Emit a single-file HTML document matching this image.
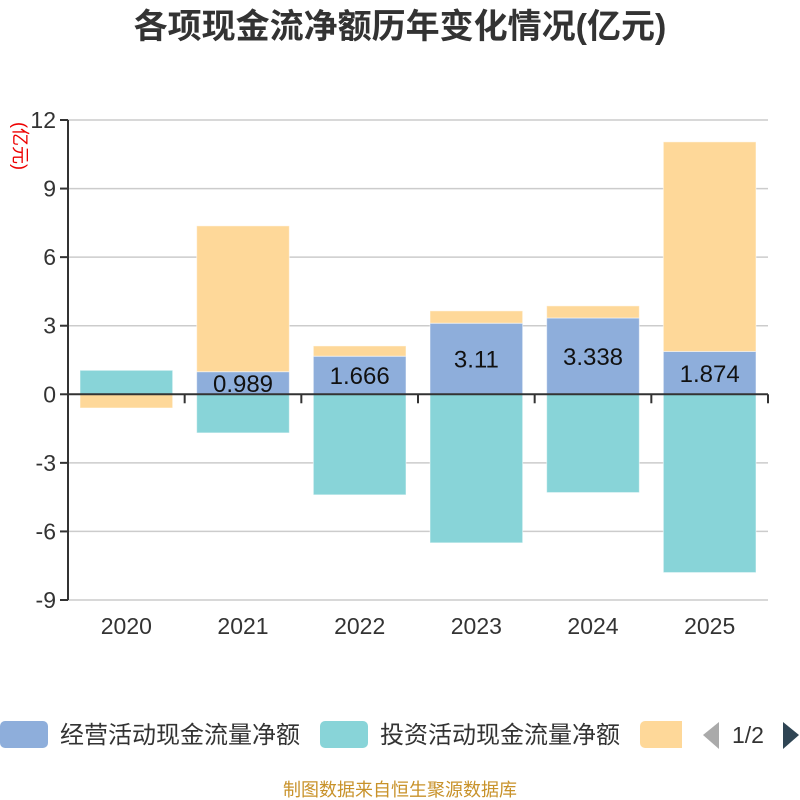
<!DOCTYPE html>
<html><head><meta charset="utf-8"><style>
body{margin:0;background:#fff;}
svg{display:block;font-family:"Liberation Sans","Noto Sans CJK SC",sans-serif;}
</style></head><body>
<svg id="c" width="800" height="800" viewBox="0 0 800 800">
<text x="400" y="38" text-anchor="middle" font-size="34" font-weight="bold" fill="#333">各项现金流净额历年变化情况(亿元)</text>
<text transform="translate(14,146) rotate(90)" text-anchor="middle" font-size="18" fill="#e00">(亿元)</text>
<g id="grid"></g><g id="bars"></g><g id="axes"></g><g id="labels"></g>
<g>
<rect x="0" y="721" width="48" height="27" rx="5" fill="#8eaedb"/>
<text x="60" y="743" font-size="24" fill="#333">经营活动现金流量净额</text>
<rect x="320" y="721" width="48" height="27" rx="5" fill="#88d4d8"/>
<text x="380" y="743" font-size="24" fill="#333">投资活动现金流量净额</text>
<rect x="640" y="721" width="48" height="27" rx="5" fill="#fed899"/>
<rect x="682" y="715" width="20" height="40" fill="#fff"/>
<polygon points="719,722 703,735 719,749" fill="#aaa"/>
<text x="732" y="743" font-size="23" fill="#333">1/2</text>
<polygon points="783,722 799,735 783,749" fill="#2f4554"/>
</g>
<text x="400" y="796" text-anchor="middle" font-size="18" fill="#c8922a">制图数据来自恒生聚源数据库</text>
</svg>
<script>
const categories=["2020","2021","2022","2023","2024","2025"];
const operating=[0,0.989,1.666,3.11,3.338,1.874];
const investing=[1.05,-1.69,-4.4,-6.5,-4.3,-7.8];
const financing=[-0.6,6.38,0.45,0.54,0.53,9.17];
const opLabels=["","0.989","1.666","3.11","3.338","1.874"];
const yTicks=[12,9,6,3,0,-3,-6,-9];
const NS="http://www.w3.org/2000/svg";
const x0=68,x1=768,yTop=120,yBot=600,vMax=12,vMin=-9;
const y=v=>yTop+(vMax-v)*(yBot-yTop)/(vMax-vMin);
const bw=(x1-x0)/categories.length;
function mk(tag,at,parent){const e=document.createElementNS(NS,tag);for(const k in at)e.setAttribute(k,at[k]);document.getElementById(parent).appendChild(e);return e;}
yTicks.forEach(t=>{
 const g=mk('line',{x1:x0,x2:x1,y1:y(t),y2:y(t),stroke:'#ccc','stroke-width':1.5},'grid');
 
 
 const tl=mk('line',{x1:x0-8,x2:x0,y1:y(t),y2:y(t),stroke:'#333','stroke-width':2},'axes');
 
 
 const tx=mk('text',{x:x0-12,y:y(t)+8,'text-anchor':'end','font-size':23,fill:'#333'},'labels');
 tx.textContent=t;
 
 
});
const series=[[operating,'#8eaedb','operating'],[investing,'#88d4d8','investing'],[financing,'#fed899','financing']];
categories.forEach((c,i)=>{
 let pos=0,neg=0;const bx=x0+i*bw+12,w=bw-24;
 series.forEach(([arr,col,nm])=>{
  const v=arr[i];let a,b;
  if(v>=0){a=pos;b=pos+v;pos=b;}else{a=neg;b=neg+v;neg=b;}
  const r=mk('rect',{x:bx,y:Math.min(y(a),y(b)),width:w,height:Math.abs(y(a)-y(b)),fill:col,stroke:'rgba(255,255,255,0.5)','stroke-width':1},'bars');
  
  
 });
 if(opLabels[i]){
  const t=mk('text',{x:bx+w/2,y:(y(0)+y(operating[i]))/2+9,'text-anchor':'middle','font-size':24,fill:'#111'},'labels');
  t.textContent=opLabels[i];
  
  
 }
 const xl=mk('text',{x:x0+(i+0.5)*bw,y:634,'text-anchor':'middle','font-size':23,fill:'#333'},'labels');
 xl.textContent=c;
 
 
});
for(let i=0;i<=categories.length;i++){
 const t=mk('line',{x1:x0+i*bw,x2:x0+i*bw,y1:y(0),y2:y(0)+9,stroke:'#333','stroke-width':2},'axes');
 
 
}
const xa=mk('line',{x1:x0,x2:x1,y1:y(0),y2:y(0),stroke:'#333','stroke-width':2},'axes');


const ya=mk('line',{x1:x0,x2:x0,y1:yTop,y2:yBot,stroke:'#333','stroke-width':2},'axes');


</script>
</body></html>
